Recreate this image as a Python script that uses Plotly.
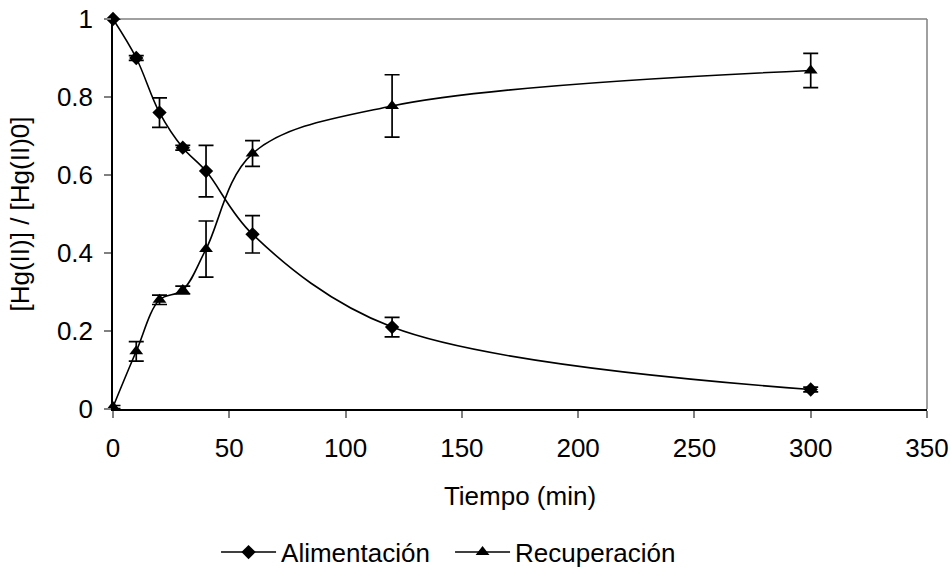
import plotly.graph_objects as go

tiempo = [0, 10, 20, 30, 40, 60, 120, 300]
alimentacion = [1.0, 0.90, 0.76, 0.67, 0.61, 0.448, 0.21, 0.05]
alimentacion_err = [0.0, 0.006, 0.038, 0.006, 0.066, 0.048, 0.025, 0.006]
recuperacion = [0.005, 0.148, 0.28, 0.305, 0.41, 0.655, 0.777, 0.868]
recuperacion_err = [0.004, 0.025, 0.012, 0.01, 0.072, 0.033, 0.08, 0.044]

x_ticks = [0, 50, 100, 150, 200, 250, 300, 350]
y_ticks = [0, 0.2, 0.4, 0.6, 0.8, 1.0]
y_tick_text = ["0", "0.2", "0.4", "0.6", "0.8", "1"]

FONT = "Liberation Sans, Arial, sans-serif"
FS = 26

fig = go.Figure()
fig.add_trace(go.Scatter(
    x=tiempo, y=alimentacion, name="Alimentación", mode="lines+markers",
    line=dict(color="black", width=1.6, shape="spline", smoothing=1.0),
    marker=dict(symbol="diamond", size=11, color="black"),
    error_y=dict(type="data", array=alimentacion_err, visible=True,
                 color="black", thickness=1.7, width=7.5),
    cliponaxis=False,
))
fig.add_trace(go.Scatter(
    x=tiempo, y=recuperacion, name="Recuperación", mode="lines+markers",
    line=dict(color="black", width=1.6, shape="spline", smoothing=1.0),
    marker=dict(symbol="triangle-up", size=12, color="black"),
    error_y=dict(type="data", array=recuperacion_err, visible=True,
                 color="black", thickness=1.7, width=7.5),
    cliponaxis=False,
))

# grey top and right borders of plot area
fig.add_shape(type="line", xref="paper", yref="paper", x0=0, x1=1, y0=1, y1=1,
              line=dict(color="#808080", width=1.5), layer="below")
fig.add_shape(type="line", xref="paper", yref="paper", x0=1, x1=1, y0=0, y1=1,
              line=dict(color="#808080", width=1.5), layer="below")

fig.update_layout(
    width=952, height=576,
    margin=dict(l=113, r=25, t=19, b=167, autoexpand=False),
    paper_bgcolor="white", plot_bgcolor="white",
    font=dict(family=FONT, size=FS, color="black"),
    showlegend=True,
    legend=dict(orientation="h", x=0.1266, xanchor="left", y=-0.367, yanchor="middle",
                font=dict(size=FS), bgcolor="rgba(0,0,0,0)", itemwidth=55,
                entrywidth=164, entrywidthmode="pixels"),
    hovermode=False,
)
fig.update_xaxes(
    range=[0, 350], tickvals=x_ticks, showgrid=False, zeroline=False, automargin=False,
    showline=True, linecolor="black", linewidth=1.5,
    ticks="outside", ticklen=7, tickwidth=1.5, tickcolor="#808080",
    ticklabelstandoff=8,
    title=dict(text="Tiempo (min)", standoff=25, font=dict(size=FS)),
)
fig.update_yaxes(
    range=[0, 1], tickvals=y_ticks, ticktext=y_tick_text, showgrid=False, zeroline=False,
    automargin=False,
    showline=True, linecolor="black", linewidth=1.5,
    ticks="outside", ticklen=7, tickwidth=1.5, tickcolor="#808080",
    ticklabelstandoff=6,
    title=dict(text="[Hg(II)] / [Hg(II)0]", standoff=20, font=dict(size=FS)),
)

fig.write_html("out.html")
